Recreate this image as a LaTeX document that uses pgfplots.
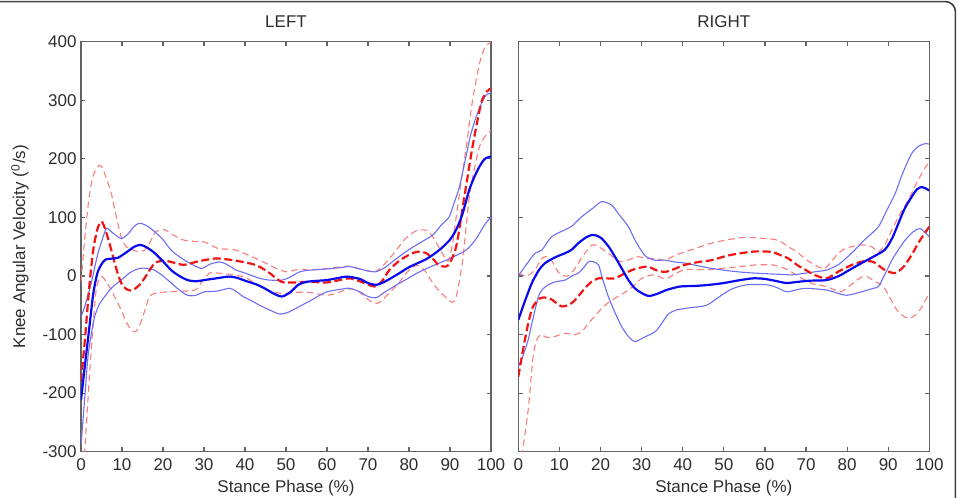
\documentclass[border=0pt]{standalone}
\usepackage{fontspec}
\setmainfont{Liberation Sans}
\usepackage{pgfplots}
\pgfplotsset{compat=1.18}
\definecolor{mblue}{RGB}{10,10,240}
\definecolor{lblue}{RGB}{110,110,245}
\definecolor{mred}{RGB}{240,20,20}
\definecolor{lred}{RGB}{250,125,125}
\definecolor{axgray}{RGB}{100,100,100}
\definecolor{txt}{RGB}{45,45,45}
\pgfplotsset{
  kneeaxis/.style={
    scale only axis, width=205pt, height=205pt,
    xmin=0, xmax=100, ymin=-300, ymax=400,
    xtick={0,10,...,100}, ytick={-300,-200,...,400},
    tick align=inside, tick pos=both,
    major tick length=2.2pt,
    axis line style={axgray, line width=0.7pt},
    every tick/.style={axgray, line width=0.6pt},
    font=\fontsize{8.5}{10}\selectfont\color{txt},
    /pgf/number format/assume math mode=true,
    xticklabel style={inner sep=0pt, yshift=-3.3pt, anchor=north},
    yticklabel style={inner sep=0pt, xshift=-2pt, anchor=east},
    xlabel={Stance Phase (\%)},
    xlabel style={at={(axis description cs:0.5,-0.069)}, anchor=north, inner sep=0pt},
    title style={at={(axis description cs:0.5,1.0488)}, anchor=center, inner sep=0pt, yshift=-6pt},
    clip=true,
    mean/.style={mblue, line width=1.1pt, smooth, tension=0.45},
    band/.style={lblue, line width=0.55pt, smooth, tension=0.45},
    rmean/.style={mred, line width=1.1pt, dash pattern=on 4pt off 1.8pt, smooth, tension=0.45},
    rband/.style={lred, line width=0.55pt, dash pattern=on 3.3pt off 2pt, smooth, tension=0.45},
  }
}
\begin{document}
\begin{tikzpicture}
\useasboundingbox (0,0) rectangle (479.5pt,-249pt);
\draw[rounded corners=5pt, line width=0.8pt, black!75] (-8pt,-0.8pt) -- (477.7pt,-0.8pt) -- (477.7pt,-262pt);
% LEFT
\begin{axis}[kneeaxis, at={(40.5pt,-225.85pt)}, anchor=south west,
  title={LEFT},
  ylabel={Knee Angular Velocity (\textsuperscript{0}/s)},
  ylabel style={at={(axis description cs:-0.1488,0.5)}, anchor=center, inner sep=0pt}]
% light red lower
\addplot[rband] coordinates {(0,-360) (0.9,-297) (1.7,-210) (2.5,-126) (3.7,-24) (4.9,-1) (6,-8) (7.4,-24) (8.5,-40) (9.8,-58) (11,-78) (12.3,-92) (13.3,-95) (14.3,-84) (15.5,-60) (16.7,-35) (18,-30) (19.2,-28) (23.7,-26) (27.8,-24) (29.5,-10) (31.4,5) (33.4,5) (36,3) (39.5,-1) (41.5,-8) (43.6,-18) (46,-25) (48.9,-30) (52,-28) (55.8,-28) (59.8,-33) (62,-30) (65.5,-22) (68,-28) (70,-40) (71.6,-47) (73,-44) (75,-30) (77.5,-12) (80,10) (82,18) (84,8) (85.8,-12) (88,-30) (90.5,-45) (91.5,-35) (93,22) (94.7,135) (96,185) (97.2,221) (98.5,238) (100,249)};
% light red upper
\addplot[rband] coordinates {(0,-10) (1,70) (2,135) (3,172) (4.5,189) (5.5,180) (6.5,160) (7.4,141) (8.5,105) (9.8,67) (11,50) (12.7,44) (14,42) (15.5,44) (17,60) (17.9,73) (19,78) (20.4,79) (22.5,70) (25.2,61) (28,59) (30.1,58) (33.4,47) (35.5,46) (37.9,44) (40,38) (43.6,27) (47,15) (50.1,7) (53.3,12) (55.8,10) (60,13) (65.5,17) (68,12) (71.6,7) (74,20) (76.9,44) (79,63) (81.7,77) (84.2,78) (86,65) (88,40) (89.5,25) (90.5,50) (91.5,100) (92.5,150) (94,222) (95.5,300) (97.2,363) (98.5,390) (100,400)};
% blue lower
\addplot[band] coordinates {(0,-290) (1,-200) (1.7,-138) (2.5,-100) (3.3,-70) (4.5,-48) (5.8,-35) (7.5,-20) (9.8,-7) (12,6) (14.3,13) (16,13) (17.9,10) (20,0) (22,-12) (24,-24) (26,-33) (28,-33) (30.1,-27) (33,-26) (36.3,-21) (38,-27) (39.5,-35) (41.5,-42) (43.6,-50) (46,-58) (48.5,-65) (50.5,-62) (53.3,-52) (56,-42) (58.2,-33) (60,-27) (63,-23) (65.5,-21) (68,-27) (70,-35) (72,-37) (74,-28) (77,-15) (79.3,-6) (82,5) (85,15) (87.4,22) (90,30) (93.9,44) (96,60) (97.2,73) (98.5,88) (100,101)};
% blue upper
\addplot[band] coordinates {(0,-70) (1,-50) (2.5,-12) (4,35) (4.9,56) (6.2,81) (7.5,75) (9.8,64) (11.5,72) (13,85) (14.3,90) (16,86) (17.9,76) (20,62) (22,44) (24,33) (26,24) (29.3,13) (31.4,20) (33.8,24) (35.5,20) (37.9,10) (40,5) (43.6,-4) (46,-7) (48.9,-7) (51,-2) (53.3,7) (55.8,10) (60,12) (63,14) (65.5,16) (68,12) (71.6,7) (74,14) (77,30) (80,45) (83,58) (85.8,70) (88,88) (89.8,101) (91,125) (92.3,152) (93.9,204) (95,240) (96.4,272) (98,300) (99,310) (100,312)};
% red mean
\addplot[rmean] coordinates {(0,-180) (1,-105) (2,-20) (3,45) (4,80) (5,93) (6,78) (7.4,44) (8.5,15) (9.8,-12) (11,-22) (12.3,-25) (13.5,-20) (14.7,-12) (16.3,5) (18,22) (20,26) (22,24) (25,19) (28,24) (30,27) (33,30) (36,28) (39.5,24) (42,20) (44,14) (46,5) (48.9,-10) (52,-11) (55.8,-10) (60,-11) (63,-7) (65.5,-4) (68,-9) (71.6,-18) (73.5,-8) (75.2,10) (78,28) (81.7,41) (84.2,39) (86,28) (87.4,18) (89.5,18) (91.5,50) (93.5,135) (95.5,221) (97.6,295) (99,315) (100,320)};
% blue mean
\addplot[mean] coordinates {(0,-212) (1,-150) (2,-90) (3,-30) (4,5) (5,20) (6,28) (8,30) (9,31) (11,40) (13,50) (14.5,53) (16,49) (18,39) (20,25) (22,10) (24,0) (26,-7) (28,-9) (30,-7) (33,-4) (36,-1) (38,-3) (40,-8) (43,-15) (45,-22) (47,-30) (49,-35) (51,-28) (53,-15) (55,-10) (58,-8) (60,-7) (63,-3) (65,-1) (68,-5) (70,-12) (72,-15) (74,-10) (77,2) (80,15) (84,28) (86,37) (88,48) (90,62) (91.5,79) (93,105) (94.7,147) (96,170) (97.2,187) (98.5,200) (100,204)};
\end{axis}
% RIGHT
\begin{axis}[kneeaxis, at={(259.15pt,-225.85pt)}, anchor=south west, width=205.5pt,
  title={RIGHT}, yticklabels={}]
% light red lower
\addplot[rband] coordinates {(0,-380) (0.6,-340) (1.2,-291) (2.4,-229) (3.6,-138) (4.5,-109) (5.5,-100) (6.9,-105) (9,-103) (11.4,-98) (13.8,-100) (15.5,-95) (17,-81) (18.7,-68) (20.3,-55) (22,-45) (23.5,-38) (25.2,-31) (26.8,-24) (28.5,-14) (30,-4) (31.5,0) (33.3,2) (35.7,-5) (38,3) (40.5,11) (44,11) (47,11) (51,14) (55.2,17) (58,19) (61.7,19) (64,15) (65.7,10) (68,0) (70,-8) (72,-14) (75,-18) (78.3,-27) (80,-20) (81.5,-12) (83.5,-2) (84.8,-1) (86.5,-8) (88.8,-18) (90.5,-38) (92.1,-58) (94,-70) (95.3,-72) (96.5,-67) (97.7,-58) (99,-42) (100,-30)};
% light red upper
\addplot[rband] coordinates {(0,5) (2,0) (4,10) (5.5,28) (6.5,33) (7.8,30) (9,15) (10.2,3) (12,0) (13.5,10) (15.5,32) (17.9,53) (19.5,50) (21.9,39) (23.5,30) (25.2,24) (27,28) (29.2,33) (31,30) (33.3,30) (35.7,27) (38,35) (40.5,41) (43.5,48) (47,56) (51,62) (55.2,66) (58,65) (61.7,63) (63.5,60) (65.7,50) (68,40) (70.2,27) (73.8,13) (75,15) (77.9,39) (80,48) (83.6,53) (86,50) (87.6,41) (89.3,55) (90.9,79) (92.8,105) (94.9,130) (97.3,164) (99,185) (100,195)};
% blue lower
\addplot[band] coordinates {(0,-155) (1.2,-135) (2.4,-109) (3.5,-75) (4.9,-35) (6,-22) (7.3,-15) (9,-10) (11.4,-7) (13,0) (14.6,5) (16,15) (17,24) (18,25) (19.5,19) (20.5,-5) (21.9,-35) (23.5,-62) (25.2,-87) (27,-105) (28.4,-112) (30.5,-105) (33.3,-95) (35,-80) (36.5,-65) (38.5,-58) (42,-54) (45.8,-50) (49,-35) (52,-22) (55.6,-15) (60.5,-15) (63,-20) (65.3,-27) (68,-23) (70.2,-21) (75,-24) (78,-30) (79.9,-33) (83,-28) (86.4,-21) (87.6,-18) (89,0) (90.9,27) (92.5,45) (94.1,61) (96,75) (97.7,81) (99,74) (100,67)};
% blue upper
\addplot[band] coordinates {(0,0) (2,20) (4.1,39) (5.7,44) (8.1,67) (11.4,79) (13,85) (15.4,101) (18,115) (20.3,127) (22.7,121) (24.5,105) (26.8,84) (28.5,60) (30.8,35) (33.2,27) (35.7,27) (38,24) (40.5,22) (44,17) (47,13) (51,9) (55.2,6) (60,4) (63.2,3) (66.7,2) (70,5) (73,8) (75,10) (78,20) (81.1,39) (84,60) (87.6,84) (89.5,110) (91.7,141) (93.5,175) (95.7,209) (97.5,222) (99,226) (100,225)};
% red mean
\addplot[rmean] coordinates {(0,-172) (0.8,-140) (1.6,-109) (2.6,-75) (3.6,-52) (5.3,-38) (6.7,-37) (8.1,-40) (9.4,-47) (10.6,-52) (12,-50) (13.4,-44) (14.8,-33) (16.2,-21) (17.8,-10) (19.5,-4) (21.5,-4) (23.5,-4) (25.5,3) (27.6,10) (29.5,14) (31.6,16) (33.5,10) (35.7,7) (38,12) (40.5,19) (44,24) (47,27) (51,35) (55.2,40) (58,42) (61.7,41) (64,35) (65.7,30) (68,18) (70,10) (72,2) (75,-4) (78,8) (81.5,20) (84,25) (86.4,24) (89.2,10) (91.7,5) (93.5,14) (94.9,27) (96.2,42) (97.3,56) (98.6,70) (100,84)};
% blue mean
\addplot[mean] coordinates {(0,-75) (1.5,-45) (3.3,-12) (5,10) (6.5,22) (9,32) (11.4,39) (13,45) (14.6,56) (16.5,66) (17.9,70) (19,69) (20.3,64) (22,50) (23.5,33) (25,15) (26.8,-7) (28.5,-22) (30.8,-32) (32,-34) (34,-30) (36,-24) (39.3,-18) (43,-17) (46.6,-15) (50,-12) (54,-7) (57.2,-4) (60,-5) (63,-9) (65.3,-12) (68,-10) (71,-8) (75,-7) (78,0) (80,8) (83,20) (86.4,33) (89.2,45) (91,65) (92.5,90) (94,115) (95.7,135) (97,148) (98.2,152) (99,150) (100,146)};
\end{axis}
\end{tikzpicture}
\end{document}
